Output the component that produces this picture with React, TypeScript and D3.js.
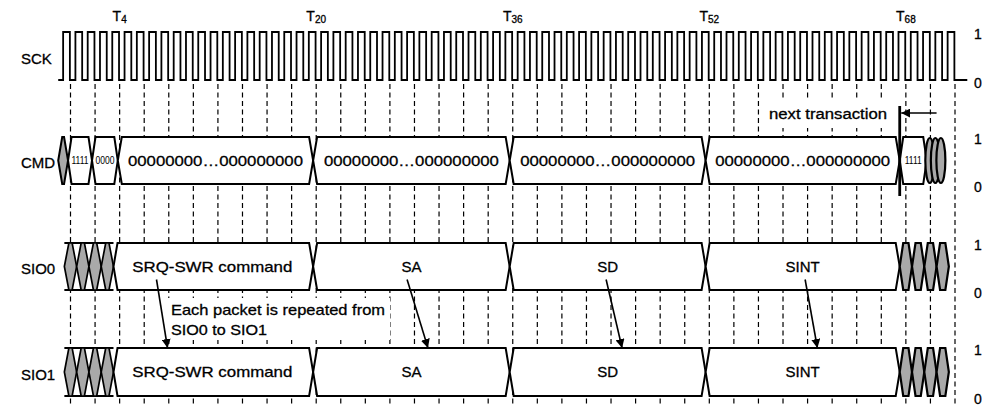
import * as d3 from 'd3';
import React from 'react';

// timing values are in clock periods (T units)
const sckCycles = 73;
const sckStart = -1;
const sckEnd = 73;
const gridStep = 2;
const gridLast = 72;
const tLabels = [4, 20, 36, 52, 68];
const rowNames = ['SCK', 'CMD', 'SIO0', 'SIO1'];

const cmdHead = { from: -1.0, to: -0.2 };
const cmdSegments = [
    { from: -0.2, to: 1.75, label: '1111', tiny: true },
    { from: 1.75, to: 3.85, label: '0000', tiny: true },
    { from: 3.85, to: 19.75, label: '00000000…000000000', tiny: false },
    { from: 19.75, to: 35.75, label: '00000000…000000000', tiny: false },
    { from: 35.75, to: 51.7, label: '00000000…000000000', tiny: false },
    { from: 51.7, to: 67.5, label: '00000000…000000000', tiny: false },
    { from: 67.5, to: 69.7, label: '1111', tiny: true },
];
const cmdCoils = [69.95, 70.4, 70.85];

const sioLeftBits = [0, 1, 2, 3];
const sioRightBits = [68, 69, 70, 71];
const sioSegments = [
    { from: 3.5, to: 19.75, label: 'SRQ-SWR command' },
    { from: 19.75, to: 35.75, label: 'SA' },
    { from: 35.75, to: 51.7, label: 'SD' },
    { from: 51.7, to: 67.5, label: 'SINT' },
];
const repeatArrows = [
    { from: 7.0, to: 7.9 },
    { from: 27.4, to: 29.1 },
    { from: 43.6, to: 44.9 },
    { from: 59.8, to: 60.8 },
];
const nextTransaction = { at: 67.5, arrowFrom: 70.5 };
const noteLines = ['Each packet is repeated from', 'SIO0 to SIO1'];

const W = 988;
const H = 407;
const FONT = '"Liberation Sans", Arial, Helvetica, sans-serif';
const GRAY = '#a9a9a9';
const TXT = { stroke: '#000', strokeWidth: 0.3 };

// vertical band of each row: [top (level 1), bottom (level 0)]
const bands: Record<string, [number, number]> = {
    SCK: [32, 80],
    CMD: [137, 184],
    SIO0: [243, 290],
    SIO1: [348, 396],
};

const x = d3.scaleLinear().domain([0, 72]).range([70.5, 955]);
const level = (row: string) => d3.scaleLinear().domain([0, 1]).range([bands[row][1], bands[row][0]]);

function hex(x0: number, x1: number, yT: number, yB: number, s: number) {
    const ym = (yT + yB) / 2;
    return d3.line()([
        [x0, ym], [x0 + s, yT], [x1 - s, yT], [x1, ym], [x1 - s, yB], [x0 + s, yB],
    ]) + 'Z';
}

function sckPath() {
    const y = level('SCK');
    const pts: [number, number][] = [[x(sckStart), y(0)]];
    d3.range(sckCycles).forEach(n => {
        pts.push([x(n - 0.6), y(0)], [x(n - 0.6), y(1)], [x(n - 0.05), y(1)], [x(n - 0.05), y(0)]);
    });
    pts.push([x(sckEnd), y(0)]);
    return d3.line()(pts)!;
}

function SioRow({ row }: { row: string }) {
    const y = level(row);
    const yT = y(1), yB = y(0);
    const ym = (yT + yB) / 2;
    return (
        <g>
            <line x1={x(sioLeftBits[0] - 0.5)} x2={x(sioLeftBits[3] + 0.5)} y1={yT} y2={yT} stroke="#000" strokeWidth={2} />
            <line x1={x(sioLeftBits[0] - 0.5)} x2={x(sioLeftBits[3] + 0.5)} y1={yB} y2={yB} stroke="#000" strokeWidth={2} />
            {sioLeftBits.map(b => (
                <path key={'l' + b} d={hex(x(b - 0.5), x(b + 0.5), yT, yB, 4.5)} fill={GRAY} stroke="#000" strokeWidth={1.7} />
            ))}
            {sioSegments.map((s, i) => (
                <g key={i}>
                    <path d={hex(x(s.from), x(s.to), yT, yB, 4)} fill="#fff" stroke="#000" strokeWidth={2} />
                    {s.label === 'SRQ-SWR command'
                        ? <text {...TXT} x={(x(s.from) + x(s.to)) / 2 - 1} y={ym} dy="0.36em" textAnchor="middle" fontSize={15} textLength={160} lengthAdjust="spacingAndGlyphs">{s.label}</text>
                        : <text {...TXT} x={(x(s.from) + x(s.to)) / 2} y={ym} dy="0.36em" textAnchor="middle" fontSize={15}>{s.label}</text>}
                </g>
            ))}
            {sioRightBits.map(b => (
                <path key={'r' + b} d={hex(x(b - 0.5), x(b + 0.5), yT, yB, 3.5)} fill={GRAY} stroke="#000" strokeWidth={2.2} />
            ))}
        </g>
    );
}

export default function App() {
    const cmd = level('CMD');
    const cT = cmd(1), cB = cmd(0), cM = (cT + cB) / 2;
    const sio0 = level('SIO0');
    const sio1 = level('SIO1');
    const grid = d3.range(0, gridLast + 1, gridStep);

    return (
        <svg width={W} height={H} viewBox={`0 0 ${W} ${H}`} style={{ position: 'absolute', left: 0, top: 0, background: '#fff' }}
            fontFamily={FONT} fill="#000">
            <defs>
                <marker id="head" viewBox="0 0 10 10" refX={10} refY={5} markerWidth={9} markerHeight={9} markerUnits="userSpaceOnUse" orient="auto">
                    <path d="M0,0 L10,5 L0,10 Z" fill="#000" />
                </marker>
            </defs>
            <rect width={W} height={H} fill="#fff" />

            {/* dashed grid every two clocks */}
            {grid.map(t => (
                <line key={t} x1={x(t)} x2={x(t)} y1={84} y2={H} stroke="#000" strokeWidth={1.2} strokeDasharray="5,3.5" />
            ))}

            {/* white backing for annotations */}
            <rect x={168} y={298} width={222} height={42} fill="#fff" />
            <rect x={766} y={98} width={126} height={30} fill="#fff" />

            {/* T labels */}
            {tLabels.map(t => (
                <text key={t} {...TXT} x={x(t)} y={21} textAnchor="middle" fontSize={14}>
                    T<tspan fontSize={10} dy={1.5}>{t}</tspan>
                </text>
            ))}

            {/* row names */}
            {rowNames.map(r => (
                <text key={r} {...TXT} x={21} y={(bands[r][0] + bands[r][1]) / 2 + 2.5} dy="0.36em" fontSize={15}>{r}</text>
            ))}

            {/* level markers */}
            {rowNames.map(r => (
                <g key={r}>
                    <text {...TXT} x={978} y={bands[r][0] + 2} dy="0.36em" textAnchor="middle" fontSize={14}>1</text>
                    <text {...TXT} x={978} y={bands[r][1] + 3} dy="0.36em" textAnchor="middle" fontSize={14}>0</text>
                </g>
            ))}

            {/* SCK */}
            <path d={sckPath()} fill="none" stroke="#000" strokeWidth={1.8} />

            {/* CMD */}
            <path d={hex(x(cmdHead.from), x(cmdHead.to), cT, cB, 4)} fill={GRAY} stroke="#000" strokeWidth={2} />
            {cmdSegments.map((s, i) => (
                <g key={i}>
                    <path d={hex(x(s.from), x(s.to), cT, cB, s.tiny ? 3.5 : 4)} fill="#fff" stroke="#000" strokeWidth={2} />
                    {s.tiny
                        ? <text x={(x(s.from) + x(s.to)) / 2} y={cM} dy="0.36em" textAnchor="middle" fontSize={10} textLength={s.label === '0000' ? 19 : 17} lengthAdjust="spacingAndGlyphs">{s.label}</text>
                        : <text {...TXT} x={(x(s.from) + x(s.to)) / 2} y={cM} dy="0.36em" textAnchor="middle" fontSize={15} textLength={175} lengthAdjust="spacingAndGlyphs">{s.label}</text>}
                </g>
            ))}
            {cmdCoils.map((c, i) => (
                <ellipse key={i} cx={x(c)} cy={cM} rx={4.5} ry={(cB - cT) / 2 - 1} fill={GRAY} stroke="#000" strokeWidth={2.2} />
            ))}

            {/* next transaction marker */}
            <line x1={x(nextTransaction.at)} x2={x(nextTransaction.at)} y1={106} y2={196} stroke="#000" strokeWidth={2.8} />
            <line x1={x(nextTransaction.arrowFrom)} x2={x(nextTransaction.at) + 1.5} y1={113} y2={113} stroke="#000" strokeWidth={1.6} markerEnd="url(#head)" />
            <text {...TXT} x={769} y={119} fontSize={14} textLength={118} lengthAdjust="spacingAndGlyphs">next transaction</text>

            {/* SIO rows */}
            <SioRow row="SIO0" />
            <SioRow row="SIO1" />

            {/* note */}
            {noteLines.map((l, i) => (
                <text key={i} {...TXT} x={171} y={315 + i * 20} fontSize={15} textLength={i === 0 ? 214 : 96} lengthAdjust="spacingAndGlyphs">{l}</text>
            ))}

            {/* repeat arrows */}
            {repeatArrows.map((a, i) => (
                <line key={i} x1={x(a.from)} y1={(sio0(1) + sio0(0)) / 2 + 13} x2={x(a.to)} y2={sio1(1)} stroke="#000" strokeWidth={1.6} markerEnd="url(#head)" />
            ))}
        </svg>
    );
}
